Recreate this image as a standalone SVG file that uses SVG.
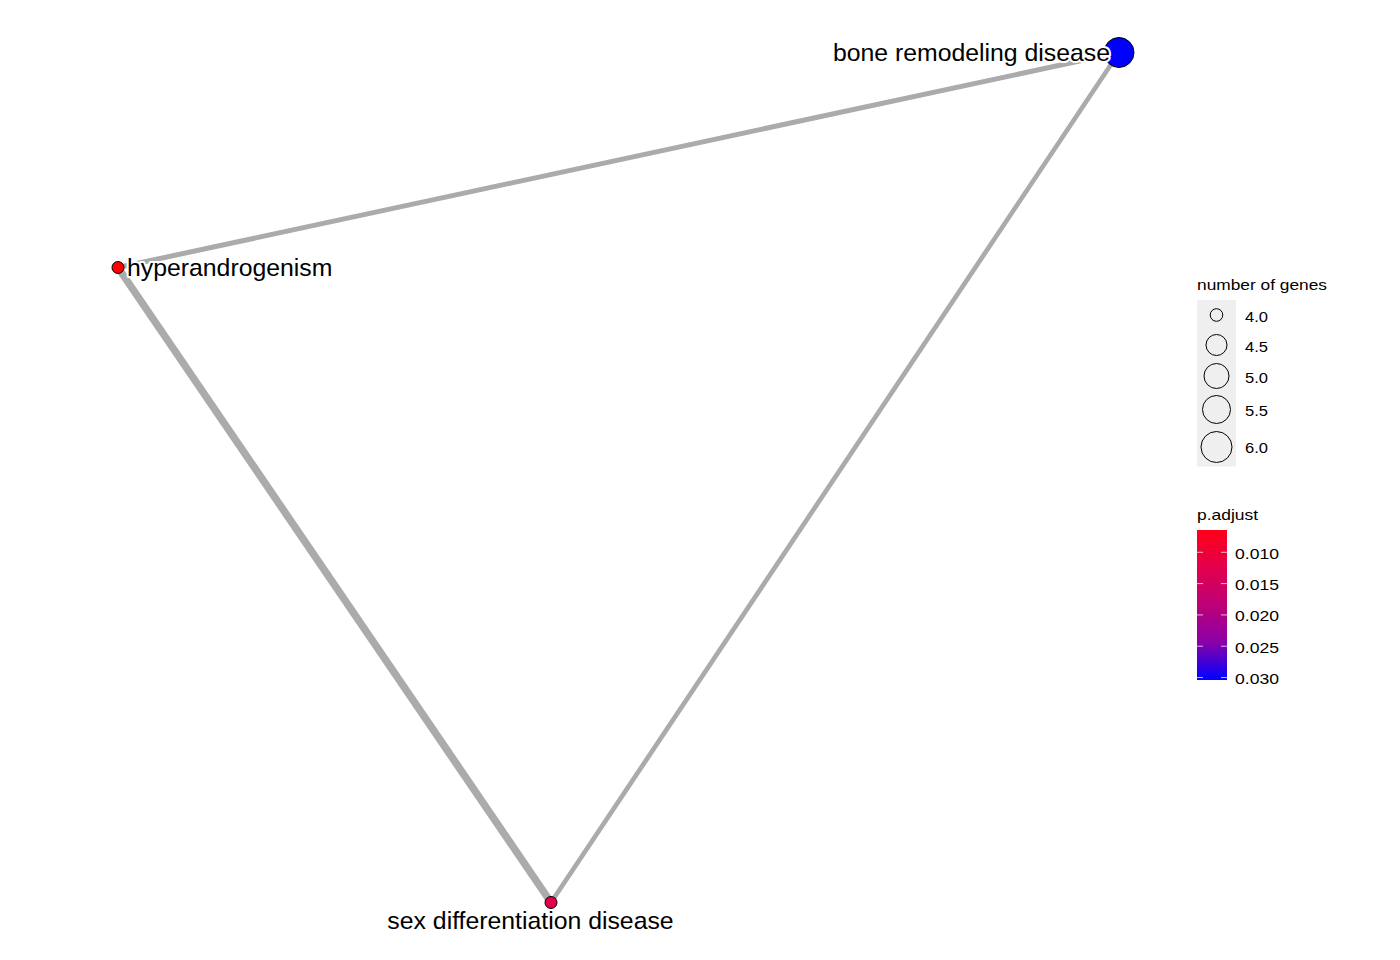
<svg xmlns="http://www.w3.org/2000/svg" width="1400" height="960" viewBox="0 0 1400 960">
  <defs>
    <linearGradient id="padj" x1="0" y1="0" x2="0" y2="1">
      <stop offset="0" stop-color="#ff0018"/>
      <stop offset="0.25" stop-color="#e3004c"/>
      <stop offset="0.5" stop-color="#bd0077"/>
      <stop offset="0.75" stop-color="#8b00a9"/>
      <stop offset="1" stop-color="#0000ff"/>
    </linearGradient>
    <style>
      .edge { stroke: #ababab; fill: none; stroke-linecap: butt; }
      .node { stroke: #000000; stroke-width: 1; }
      .label { font-family: "Liberation Sans", Arial, sans-serif; font-size: 24.8px; fill: #000000; stroke: #ffffff; stroke-width: 4; paint-order: stroke; stroke-linejoin: round; }
      .lg { font-family: "Liberation Sans", Arial, sans-serif; font-size: 15px; fill: #000000; }
      .key { fill: none; stroke: #000000; stroke-width: 1; }
      .tick { stroke: #ffffff; stroke-width: 1; stroke-opacity: 0.7; }
    </style>
  </defs>
  <rect x="0" y="0" width="1400" height="960" fill="#ffffff"/>

  <g id="connectors">
    <line class="edge" x1="1119" y1="52.5" x2="118" y2="267.5" stroke-width="5"/>
    <line class="edge" x1="118" y1="267.5" x2="551" y2="902.5" stroke-width="7.5"/>
    <line class="edge" x1="1119" y1="52.5" x2="551" y2="902.5" stroke-width="4.7"/>
  </g>

  <g id="node-bone-remodeling-disease">
    <circle class="node" cx="1119" cy="52.5" r="15" fill="#0000ff"/>
  </g>
  <g id="node-hyperandrogenism">
    <circle class="node" cx="118" cy="267.5" r="6" fill="#ff0000"/>
  </g>
  <g id="node-sex-differentiation-disease">
    <circle class="node" cx="551" cy="902.5" r="6" fill="#e3004a"/>
  </g>

  <g id="labels">
    <text class="label" x="1110" y="60.5" text-anchor="end">bone remodeling disease</text>
    <text class="label" x="127" y="275.5">hyperandrogenism</text>
    <text class="label" x="530.5" y="929.3" text-anchor="middle">sex differentiation disease</text>
  </g>

  <g id="legend-size">
    <text class="lg" x="1197" y="290" textLength="130" lengthAdjust="spacingAndGlyphs">number of genes</text>
    <rect x="1197" y="300" width="39" height="166.5" fill="#efefef"/>
    <circle class="key" cx="1216.5" cy="315" r="6.3"/>
    <circle class="key" cx="1216.5" cy="345" r="10.5"/>
    <circle class="key" cx="1216.5" cy="376" r="12.5"/>
    <circle class="key" cx="1216.5" cy="409.5" r="14"/>
    <circle class="key" cx="1216.5" cy="447" r="15.5"/>
    <text class="lg" x="1245" y="321.5" textLength="23" lengthAdjust="spacingAndGlyphs">4.0</text>
    <text class="lg" x="1245" y="351.5" textLength="23" lengthAdjust="spacingAndGlyphs">4.5</text>
    <text class="lg" x="1245" y="382.5" textLength="23" lengthAdjust="spacingAndGlyphs">5.0</text>
    <text class="lg" x="1245" y="416" textLength="23" lengthAdjust="spacingAndGlyphs">5.5</text>
    <text class="lg" x="1245" y="453" textLength="23" lengthAdjust="spacingAndGlyphs">6.0</text>
  </g>

  <g id="legend-color">
    <text class="lg" x="1197" y="520" textLength="61" lengthAdjust="spacingAndGlyphs">p.adjust</text>
    <rect x="1197" y="530" width="30" height="150" fill="url(#padj)"/>
    <line class="tick" x1="1197" y1="552.3" x2="1203" y2="552.3"/>
    <line class="tick" x1="1221" y1="552.3" x2="1227" y2="552.3"/>
    <line class="tick" x1="1197" y1="583.6" x2="1203" y2="583.6"/>
    <line class="tick" x1="1221" y1="583.6" x2="1227" y2="583.6"/>
    <line class="tick" x1="1197" y1="614.9" x2="1203" y2="614.9"/>
    <line class="tick" x1="1221" y1="614.9" x2="1227" y2="614.9"/>
    <line class="tick" x1="1197" y1="646.2" x2="1203" y2="646.2"/>
    <line class="tick" x1="1221" y1="646.2" x2="1227" y2="646.2"/>
    <line class="tick" x1="1197" y1="677.5" x2="1203" y2="677.5"/>
    <line class="tick" x1="1221" y1="677.5" x2="1227" y2="677.5"/>
    <text class="lg" x="1235" y="558.5" textLength="44" lengthAdjust="spacingAndGlyphs">0.010</text>
    <text class="lg" x="1235" y="590" textLength="44" lengthAdjust="spacingAndGlyphs">0.015</text>
    <text class="lg" x="1235" y="621" textLength="44" lengthAdjust="spacingAndGlyphs">0.020</text>
    <text class="lg" x="1235" y="652.5" textLength="44" lengthAdjust="spacingAndGlyphs">0.025</text>
    <text class="lg" x="1235" y="683.5" textLength="44" lengthAdjust="spacingAndGlyphs">0.030</text>
  </g>
</svg>
